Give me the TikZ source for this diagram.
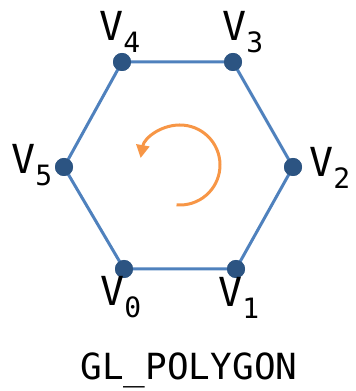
\documentclass[tikz,border=0pt]{standalone}
\usepackage{fontspec}
\setmonofont{DejaVu Sans Mono}
\usetikzlibrary{arrows.meta}
\definecolor{edgeblue}{RGB}{79,129,189}
\definecolor{dotblue}{RGB}{44,84,130}
\definecolor{turnorange}{RGB}{247,150,70}
\begin{document}
\begin{tikzpicture}[x=1pt, y=1pt, >={Triangle[length=13pt,width=13pt]}, font=\ttfamily,
    vert/.style={circle, fill=dotblue, inner sep=0pt, minimum size=18pt},
    vlabel/.style={font=\fontsize{40}{40}\selectfont\ttfamily, inner sep=0pt}]

        % ==========================================
        % 1. VERTICI DEL POLIGONO
        % ==========================================
        \useasboundingbox (0,0) rectangle (356,391);
        \node[vert] (v0) at (124, 122) {};
        \node[vert] (v1) at (236, 122) {};
        \node[vert] (v2) at (293, 224) {};
        \node[vert] (v3) at (233, 329) {};
        \node[vert] (v4) at (122, 329) {};
        \node[vert] (v5) at (64, 224) {};

        % Lati
        \draw[edgeblue, line width=3pt] (v0.center) -- (v1.center) -- (v2.center) -- (v3.center)
            -- (v4.center) -- (v5.center) -- cycle;
        \foreach \i in {0,...,5} \fill[dotblue] (v\i) circle (9pt);

        % ==========================================
        % 2. ETICHETTE
        % ==========================================
        \node[vlabel] (l0) at (121, 94) {V\textsubscript{0}};
        \node[vlabel] (l1) at (239, 93) {V\textsubscript{1}};
        \node[vlabel] (l2) at (330, 223) {V\textsubscript{2}};
        \node[vlabel] (l3) at (243, 359) {V\textsubscript{3}};
        \node[vlabel] (l4) at (120, 359) {V\textsubscript{4}};
        \node[vlabel] (l5) at (32, 226) {V\textsubscript{5}};

        % ==========================================
        % 3. VERSO DI PERCORRENZA
        % ==========================================
        \coordinate (ctr) at (180, 226);
        \draw[turnorange, line width=3pt, ->] ([shift={(-95:40)}]ctr) arc[start angle=-95, end angle=170, radius=40];

        \node[font=\fontsize{36}{36}\selectfont\ttfamily] (title) at (189, 21) {GL\_POLYGON};

    \end{tikzpicture}
\end{document}
